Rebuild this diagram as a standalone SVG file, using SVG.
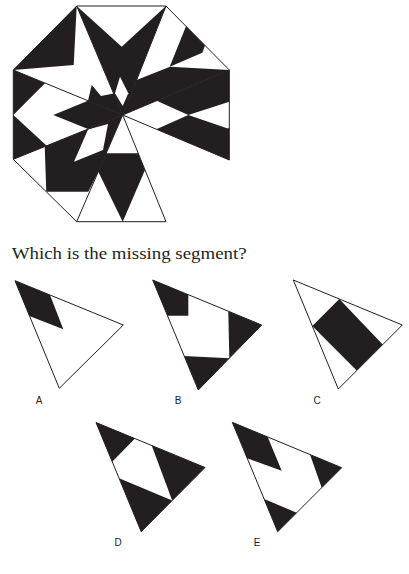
<svg xmlns="http://www.w3.org/2000/svg" width="409" height="574" viewBox="0 0 409 574">
<style>
.k{fill:#231f20;stroke:none}
.w{fill:#ffffff;stroke:none}
.ln{fill:none;stroke:#231f20;stroke-width:1;stroke-linejoin:miter}
.tri{fill:#ffffff;stroke:#231f20;stroke-width:1}
.lab{font-family:"Liberation Sans",Arial,sans-serif;font-size:10px;fill:#231f20;text-anchor:middle}
.q{font-family:"Liberation Serif","Times New Roman",serif;font-size:16px;fill:#231f20}
</style>
<rect width="409" height="574" fill="#ffffff"/>
<g id="octagon">
  <g id="seg-top">
    <polygon class="k" points="122.7,115 76.7,6 166,6"/>
    <polygon class="w" points="76.7,6 121.7,46.7 166,6"/>
    <polygon class="w" points="120,76.7 128.3,93.3 122.7,106 115,93.3"/>
  </g>
  <g id="seg-top-right">
    <polygon class="k" points="136.6,80 170,66.7 229.3,70 122.7,115"/>
    <polygon class="k" points="186,26.3 205,45.4 202.3,52.7 169.7,66.7"/>
  </g>
  <g id="seg-right">
    <polygon class="k" points="156.7,100.7 229.3,70 229.3,101.7 188.3,115"/>
    <polygon class="k" points="156.3,129.2 188.3,115 227,128.3 229.3,128.3 229.3,160"/>
  </g>
  <g id="seg-bottom">
    <polygon class="k" points="106.2,153.3 138.2,153.3 145,170 122.7,221.7 98.3,171.7"/>
  </g>
  <g id="seg-bottom-left">
    <polygon class="k" points="44.7,146.6 88,129.1 122.7,115 106.2,153.3 98.3,171.7 88.3,191.7 46.3,191.7"/>
    <polygon class="w" points="74,161.7 88,129.6 108,124 103,150"/>
  </g>
  <g id="seg-left">
    <polygon class="k" points="13.3,70 45,83.3 13.3,115"/>
    <polygon class="k" points="13.3,115 46.7,145.8 13.3,159.3"/>
    <polygon class="k" points="53.3,115 88,100.7 122.7,115 88,129.1"/>
  </g>
  <g id="seg-top-left">
    <polygon class="k" points="13.3,70 76.7,6 73.7,65"/>
    <polygon class="k" points="88,100.7 91.7,85 101,96 113.6,93.5 122.7,115"/>
  </g>
  <g id="outline">
    <polyline class="ln" points="229.3,160 229.3,70 166,6 76.7,6 13.3,70 13.3,159.3 76.7,221.7 166,221.7"/>
    <path class="ln" d="M122.7,115L76.7,6M122.7,115L166,6M122.7,115L229.3,70M122.7,115L229.3,160M122.7,115L166,221.7M122.7,115L76.7,221.7M122.7,115L13.3,159.3M122.7,115L13.3,70"/>
  </g>
</g>
<text class="q" x="11.7" y="259" textLength="235" lengthAdjust="spacingAndGlyphs">Which is the missing segment?</text>
<g id="option-A">
  <polygon class="tri" points="15,280.7 123.3,325 59.3,388.3"/>
  <polygon class="k" points="15,280.7 50,295 63.3,329.3 29.4,316"/>
  <text class="lab" x="39" y="404">A</text>
</g>
<g id="option-B">
  <polygon class="tri" points="152.7,280 261.7,325 198.3,390"/>
  <polygon class="k" points="152.7,280 188.3,294.7 188.3,315.7 167.5,315.7"/>
  <polygon class="k" points="228.3,311.2 261.7,325 229.3,358.2"/>
  <polygon class="k" points="184.2,356 229.3,358.2 198.3,390"/>
  <text class="lab" x="178" y="404">B</text>
</g>
<g id="option-C">
  <polygon class="tri" points="293.3,280 402.3,325 338.3,389"/>
  <polygon class="k" points="339.3,299 382.7,344.6 356.7,370.6 312.3,326"/>
  <text class="lab" x="317" y="404">C</text>
</g>
<g id="option-D">
  <polygon class="tri" points="96,422.5 205,467.5 141.2,531.7"/>
  <polygon class="k" points="96,422.5 135,438.6 112.2,461.7"/>
  <polygon class="k" points="151.7,445.5 205,467.5 172.2,500.5"/>
  <polygon class="k" points="119.1,478.3 172.2,500.5 141.2,531.7"/>
  <text class="lab" x="118" y="546">D</text>
</g>
<g id="option-E">
  <polygon class="tri" points="232.3,422.3 341.7,467.7 277.7,531.7"/>
  <polygon class="k" points="232.3,422.3 267.7,437 281.7,470.7 247.2,458.3"/>
  <polygon class="k" points="310,454.5 341.7,467.7 321.7,487.7"/>
  <polygon class="k" points="264.1,499 296.7,512.7 277.7,531.7"/>
  <text class="lab" x="257" y="546">E</text>
</g>
</svg>
